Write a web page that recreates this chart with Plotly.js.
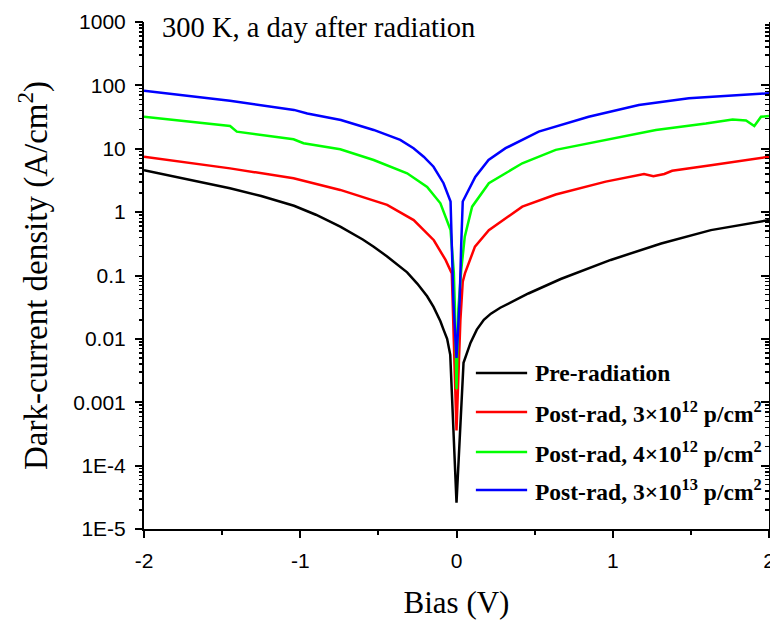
<!DOCTYPE html>
<html>
<head>
<meta charset="utf-8">
<script src="https://cdn.plot.ly/plotly-3.0.1.min.js"></script>
<style>html,body{margin:0;padding:0;background:#fff;}#chart{width:770px;height:620px;}</style>
</head>
<body>
<div id="chart"></div>
<script>
// ---- Data (Bias in V, dark-current density in A/cm^2) ----
const preX  = [-2, -1.75, -1.45, -1.25, -1.04, -0.9, -0.744, -0.6, -0.53, -0.444, -0.365, -0.316, -0.25, -0.188, -0.147, -0.103, -0.083, -0.06, -0.04, 0, 0.045, 0.09, 0.13, 0.175, 0.22, 0.28, 0.41, 0.46, 0.667, 0.85, 0.987, 1.31, 1.628, 2];
const preY  = [4.6, 3.4, 2.38, 1.8, 1.26, 0.91, 0.59, 0.37, 0.285, 0.2, 0.141, 0.112, 0.074, 0.047, 0.032, 0.019, 0.014, 0.01, 0.0056, 2.6e-5, 0.0042, 0.0087, 0.014, 0.02, 0.025, 0.031, 0.045, 0.052, 0.088, 0.13, 0.176, 0.32, 0.52, 0.75];

const r12X  = [-2, -1.449, -1.043, -0.744, -0.444, -0.274, -0.145, -0.07, -0.03, -0.02, 0, 0.025, 0.04, 0.054, 0.118, 0.207, 0.421, 0.635, 0.955, 1.2, 1.26, 1.33, 1.38, 1.628, 2];
const r12Y  = [7.5, 4.9, 3.43, 2.24, 1.3, 0.75, 0.36, 0.176, 0.108, 0.02, 3.6e-4, 0.02, 0.08, 0.108, 0.285, 0.52, 1.22, 1.9, 3.03, 4.0, 3.7, 4.0, 4.5, 5.5, 7.5];

const r4X   = [-2, -1.449, -1.406, -1.171, -1.043, -0.979, -0.744, -0.53, -0.316, -0.188, -0.103, -0.038, -0.017, -0.01, 0, 0.012, 0.03, 0.053, 0.1, 0.207, 0.421, 0.635, 0.955, 1.276, 1.596, 1.767, 1.853, 1.906, 1.949, 2];
const r4Y   = [32, 22.9, 18.6, 15.8, 14.1, 12.2, 9.8, 6.65, 4.1, 2.5, 1.38, 0.52, 0.11, 0.03, 0.0016, 0.03, 0.12, 0.41, 1.22, 2.86, 5.9, 9.6, 13.8, 19.8, 25, 29, 28, 22.9, 32, 33];

const r30X  = [-2, -1.45, -1.04, -0.955, -0.74, -0.53, -0.36, -0.275, -0.21, -0.147, -0.083, -0.038, -0.03, -0.02, 0, 0.02, 0.03, 0.04, 0.12, 0.205, 0.314, 0.526, 0.846, 1.167, 1.487, 2];
const r30Y  = [82, 57, 41, 36, 28.4, 19.8, 13.8, 10.2, 7.5, 5.2, 2.86, 1.47, 0.3, 0.04, 0.005, 0.04, 0.3, 1.47, 3.6, 6.65, 10.2, 18.6, 32, 49, 62.5, 75];

const seriesNames = ['Pre-radiation',
  'Post-rad, 3×10<sup>12</sup> p/cm<sup>2</sup>',
  'Post-rad, 4×10<sup>12</sup> p/cm<sup>2</sup>',
  'Post-rad, 3×10<sup>13</sup> p/cm<sup>2</sup>'];
const seriesColors = ['#000000', '#ff0000', '#00ff00', '#0000ff'];

const yTickVals = [1e-5, 1e-4, 1e-3, 1e-2, 1e-1, 1, 10, 100, 1000];
const yTickText = ['1E-5', '1E-4', '0.001', '0.01', '0.1', '1', '10', '100', '1000'];
const xTickVals = [-2, -1, 0, 1, 2];
const xTickText = ['-2', '-1', '0', '1', '2'];

// ---- Figure ----
const xs = [preX, r12X, r4X, r30X];
const ys = [preY, r12Y, r4Y, r30Y];
const traces = xs.map((x, i) => ({
  x: x, y: ys[i], type: 'scatter', mode: 'lines', name: seriesNames[i],
  line: {color: seriesColors[i], width: 2.5}, showlegend: false, hoverinfo: 'x+y'
}));
// empty traces so that the overlay (minor / right-side) axes get drawn
['y2', 'y3', 'y4'].forEach(ax => traces.push({
  x: [], y: [], type: 'scatter', mode: 'lines', yaxis: ax, showlegend: false, hoverinfo: 'skip'
}));

const SERIF = '"Liberation Serif", "Times New Roman", serif';
const SANS = '"Liberation Sans", Arial, sans-serif';

// custom legend (sample line + label), positioned in paper coordinates
const legRowsY = [0.3077, 0.2308, 0.1519, 0.0769];
const shapes = legRowsY.map((yy, i) => ({
  type: 'line', xref: 'paper', yref: 'paper', x0: 0.531, x1: 0.613, y0: yy, y1: yy,
  line: {color: seriesColors[i], width: 2.5}
}));
const annotations = legRowsY.map((yy, i) => ({
  xref: 'paper', yref: 'paper', x: 0.622, y: yy, xanchor: 'left', yanchor: 'middle',
  text: '<b>' + seriesNames[i] + '</b>', showarrow: false,
  font: {family: SERIF, size: 23.5, color: '#000'}
}));
annotations.push({
  xref: 'paper', yref: 'paper', x: 0.0256, y: 0.99, xanchor: 'left', yanchor: 'middle',
  text: '300 K, a day after radiation', showarrow: false,
  font: {family: SERIF, size: 28.5, color: '#000'}
});

const logRange = [-5, 3];
const layout = {
  width: 770, height: 620,
  margin: {l: 144, r: 1, t: 22, b: 91, pad: 0},
  paper_bgcolor: '#fff', plot_bgcolor: '#fff',
  showlegend: false,
  xaxis: {
    range: [-2, 2], tickmode: 'array', tickvals: xTickVals, ticktext: xTickText,
    showline: true, linecolor: '#000', linewidth: 2, mirror: false,
    ticks: 'outside', ticklen: 7, tickwidth: 2, tickcolor: '#000', ticklabelstandoff: 5,
    ticklabeloverflow: 'allow',
    minor: {dtick: 0.5, ticks: 'outside', ticklen: 4, tickwidth: 2, tickcolor: '#000', showgrid: false},
    showgrid: false, zeroline: false,
    tickfont: {family: SANS, size: 21, color: '#000'},
    title: {text: 'Bias (V)', font: {family: SERIF, size: 31, color: '#000'}, standoff: 20}
  },
  yaxis: {
    type: 'log', range: logRange, tickmode: 'array', tickvals: yTickVals, ticktext: yTickText,
    showline: true, linecolor: '#000', linewidth: 2,
    ticks: 'outside', ticklen: 7, tickwidth: 2, tickcolor: '#000', ticklabelstandoff: 5,
    showgrid: false, zeroline: false,
    tickfont: {family: SANS, size: 21, color: '#000'},
    title: {text: 'Dark-current density (A/cm<sup>2</sup>)', font: {family: SERIF, size: 33, color: '#000'}, standoff: 16}
  },
  yaxis2: {
    type: 'log', range: logRange, overlaying: 'y', side: 'left', anchor: 'x',
    dtick: 'D1', ticks: 'outside', ticklen: 4, tickwidth: 1.5, tickcolor: '#000',
    showticklabels: false, showgrid: false, zeroline: false, showline: false
  },
  yaxis3: {
    type: 'log', range: logRange, overlaying: 'y', side: 'right', anchor: 'x',
    tickmode: 'array', tickvals: yTickVals, ticks: 'inside', ticklen: 8, tickwidth: 2, tickcolor: '#000',
    showticklabels: false, showgrid: false, zeroline: false, showline: true, linecolor: '#000', linewidth: 2
  },
  yaxis4: {
    type: 'log', range: logRange, overlaying: 'y', side: 'right', anchor: 'x',
    dtick: 'D1', ticks: 'inside', ticklen: 4, tickwidth: 1.5, tickcolor: '#000',
    showticklabels: false, showgrid: false, zeroline: false, showline: false
  },
  shapes: shapes,
  annotations: annotations
};

Plotly.newPlot('chart', traces, layout, {staticPlot: true, displayModeBar: false});
</script>
</body>
</html>
